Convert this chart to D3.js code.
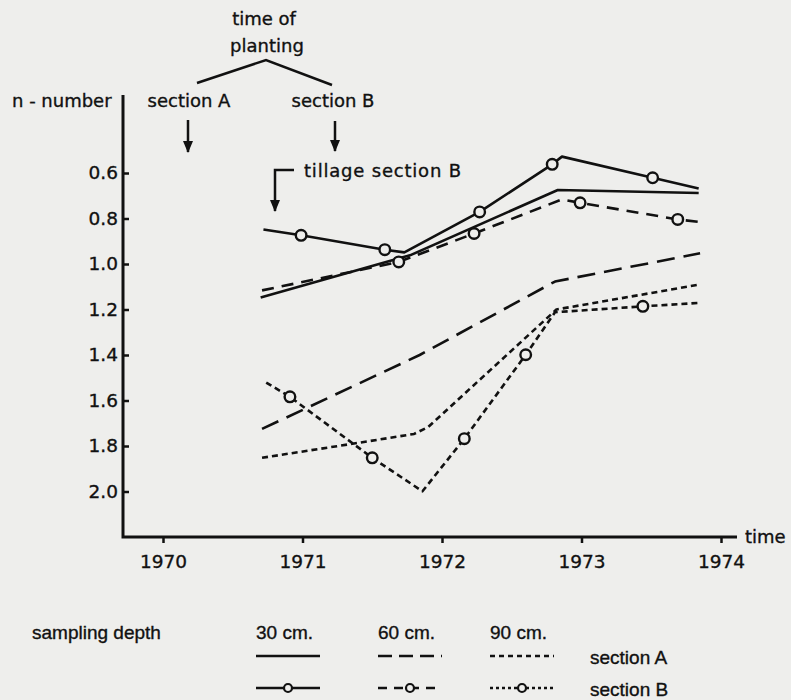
<!DOCTYPE html>
<html>
<head>
<meta charset="utf-8">
<style>
  body { margin: 0; background: #eeeeec; }
  svg text { fill: #111; stroke: #111; stroke-width: 0.35px; }
  .ann { font-family: "DejaVu Sans", sans-serif; font-size: 18px; }
  .tick text { font-family: "DejaVu Sans", sans-serif; font-size: 18.5px; }
  .leg { font-family: "Liberation Sans", Arial, sans-serif; font-size: 19px; }
</style>
</head>
<body>
<svg width="791" height="700"></svg>
<script src="https://d3js.org/d3.v7.min.js"></script>
<script>
// n-number readings per series: [year, n-number, circle marker 1/0]
var a30 = [[1970.70, 1.147, 0], [1971.77, 0.962, 0], [1972.83, 0.675, 0], [1973.84, 0.688, 0]];
var b30 = [[1970.72, 0.848, 0], [1970.99, 0.874, 1], [1971.59, 0.937, 1], [1971.73, 0.949, 0],
           [1972.27, 0.771, 1], [1972.79, 0.562, 1], [1972.86, 0.528, 0], [1973.51, 0.621, 1],
           [1973.84, 0.668, 0]];
var a60 = [[1970.71, 1.725, 0], [1971.84, 1.400, 0], [1972.81, 1.077, 0], [1973.85, 0.953, 0]];
var b60 = [[1970.71, 1.116, 0], [1971.69, 0.991, 1], [1972.23, 0.866, 1], [1972.86, 0.716, 0],
           [1972.99, 0.731, 1], [1973.69, 0.804, 1], [1973.84, 0.815, 0]];
var a90 = [[1970.71, 1.852, 0], [1971.34, 1.792, 0], [1971.80, 1.747, 0], [1971.90, 1.717, 0],
           [1972.82, 1.200, 0], [1973.85, 1.090, 0]];
var b90 = [[1970.74, 1.521, 0], [1970.91, 1.584, 1], [1971.50, 1.852, 1], [1971.86, 1.999, 0],
           [1972.16, 1.768, 1], [1972.60, 1.399, 1], [1972.81, 1.212, 0], [1973.44, 1.186, 1],
           [1973.85, 1.171, 0]];

var yearTicks = [1970, 1971, 1972, 1973, 1974];
var nTicks = [0.6, 0.8, 1.0, 1.2, 1.4, 1.6, 1.8, 2.0];
var depths = ["30 cm.", "60 cm.", "90 cm."];
var sections = ["section A", "section B"];

var ink = "#111";
var bg = "#eeeeec";
var dashes = { a30: null, b30: null, a60: "18,9", b60: "12,8", a90: "6,4", b90: "6,4" };

var svg = d3.select("svg");
svg.append("rect").attr("width", 791).attr("height", 700).attr("fill", bg);

var x = d3.scaleLinear().domain([1970, 1974]).range([163, 721]);
var y = d3.scaleLinear().domain([0.6, 2.2]).range([173, 537]);

// axes
var yAxis = d3.axisLeft(y).tickValues(nTicks).tickFormat(d3.format(".1f"))
    .tickSizeInner(-6).tickSizeOuter(0).tickPadding(5);
var gy = svg.append("g").attr("transform", "translate(123,0)").call(yAxis);
gy.select(".domain").remove();
gy.selectAll(".tick line").attr("stroke", ink).attr("stroke-width", 2.5);

var xAxis = d3.axisBottom(x).tickValues(yearTicks).tickFormat(d3.format("d"))
    .tickSizeInner(6).tickSizeOuter(0).tickPadding(8);
var gx = svg.append("g").attr("transform", "translate(0,537)").call(xAxis);
gx.select(".domain").remove();
gx.selectAll(".tick line").attr("stroke", ink).attr("stroke-width", 2.5);
gx.selectAll(".tick text").attr("dy", "0.9em");

svg.append("path").attr("d", "M123,95V537H737")
    .attr("fill", "none").attr("stroke", ink).attr("stroke-width", 3);
svg.append("text").attr("class", "ann").attr("x", 745).attr("y", 543).text("time");

// series
var line = d3.line().x(function(d){ return x(d[0]); }).y(function(d){ return y(d[1]); });
var series = [["a30", a30], ["b30", b30], ["a60", a60], ["b60", b60], ["a90", a90], ["b90", b90]];
series.forEach(function(s){
    svg.append("path").datum(s[1]).attr("d", line)
        .attr("fill", "none").attr("stroke", ink).attr("stroke-width", 2.6)
        .attr("stroke-linejoin", "round")
        .attr("stroke-dasharray", dashes[s[0]]);
    svg.selectAll(null).data(s[1].filter(function(d){ return d[2]; })).enter()
        .append("circle")
        .attr("cx", function(d){ return x(d[0]); })
        .attr("cy", function(d){ return y(d[1]); })
        .attr("r", 5.3).attr("fill", bg).attr("stroke", ink).attr("stroke-width", 2.4);
});

// annotations
var arrowDefs = svg.append("defs");
arrowDefs.append("marker").attr("id", "ah").attr("viewBox", "0 0 12 10")
    .attr("refX", 11).attr("refY", 5).attr("markerWidth", 5).attr("markerHeight", 4)
    .attr("markerUnits", "strokeWidth").attr("orient", "auto")
    .append("path").attr("d", "M0,0L12,5L0,10Z").attr("fill", ink);

svg.append("text").attr("class", "ann").attr("x", 264).attr("y", 25)
    .attr("text-anchor", "middle").text("time of");
svg.append("text").attr("class", "ann").attr("x", 267).attr("y", 52)
    .attr("text-anchor", "middle").text("planting");
svg.append("path").attr("d", "M197,83L266,60L332,85")
    .attr("fill", "none").attr("stroke", ink).attr("stroke-width", 2.5);
svg.append("text").attr("class", "ann").attr("x", 12).attr("y", 107).text("n - number");
svg.append("text").attr("class", "ann").attr("x", 189).attr("y", 107)
    .attr("text-anchor", "middle").text("section A");
svg.append("text").attr("class", "ann").attr("x", 333).attr("y", 107)
    .attr("text-anchor", "middle").text("section B");
svg.append("path").attr("d", "M188,120V152").attr("stroke", ink).attr("stroke-width", 2.5)
    .attr("marker-end", "url(#ah)");
svg.append("path").attr("d", "M335,121V151").attr("stroke", ink).attr("stroke-width", 2.5)
    .attr("marker-end", "url(#ah)");
svg.append("path").attr("d", "M294,170H275V211").attr("fill", "none")
    .attr("stroke", ink).attr("stroke-width", 2.5).attr("marker-end", "url(#ah)");
svg.append("text").attr("class", "ann").attr("x", 304).attr("y", 177)
    .style("letter-spacing", "0.8px").text("tillage section B");

// legend
var lg = svg.append("g");
lg.append("text").attr("class", "leg").attr("x", 32).attr("y", 639).text("sampling depth");
var colX = [256, 378, 490];
depths.forEach(function(d, i){
    lg.append("text").attr("class", "leg").attr("x", colX[i]).attr("y", 639).text(d);
});
var legKeys = [["a30", "a60", "a90"], ["b30", "b60", "b90"]];
var rowY = [656, 688];
var legDash = { a30: null, a60: "14,7", a90: "5,4", b30: null, b60: "9,7", b90: "3,3" };
legKeys.forEach(function(row, r){
    row.forEach(function(k, i){
        lg.append("line").attr("x1", colX[i]).attr("x2", colX[i] + 64)
            .attr("y1", rowY[r]).attr("y2", rowY[r])
            .attr("stroke", ink).attr("stroke-width", 2.5).attr("stroke-dasharray", legDash[k]);
        if (r === 1) {
            lg.append("circle").attr("cx", colX[i] + 32).attr("cy", rowY[r]).attr("r", 4)
                .attr("fill", bg).attr("stroke", ink).attr("stroke-width", 2.2);
        }
    });
    lg.append("text").attr("class", "leg").attr("x", 590).attr("y", rowY[r] + 8).text(sections[r]);
});
</script>
</body>
</html>
